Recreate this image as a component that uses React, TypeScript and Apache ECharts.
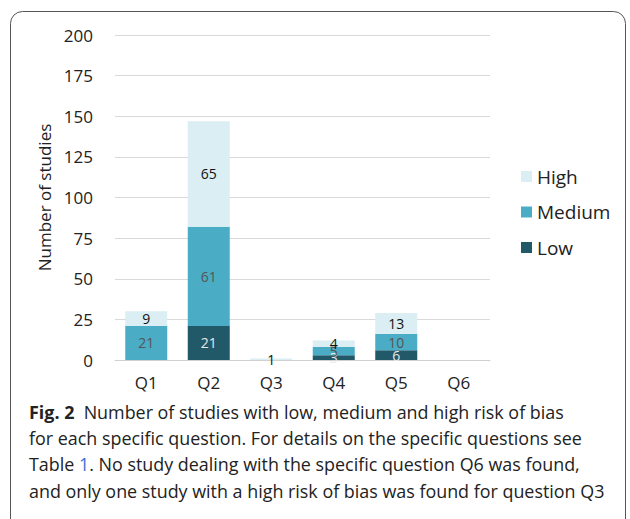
import React, { useEffect, useRef } from "react";
import * as echarts from "echarts";

const categories = ["Q1", "Q2", "Q3", "Q4", "Q5", "Q6"];
const lowValues = [0, 21, 0, 3, 6, 0];
const mediumValues = [21, 61, 0, 5, 10, 0];
const highValues = [9, 65, 1, 4, 13, 0];
const yTicks = [0, 25, 50, 75, 100, 125, 150, 175, 200];
const captionLines = [
  "Number of studies with low, medium and high risk of bias",
  "for each specific question. For details on the specific questions see",
  "Table 1. No study dealing with the specific question Q6 was found,",
  "and only one study with a high risk of bias was found for question Q3",
];

const FONT = "'Open Sans', 'Noto Sans', sans-serif";
const CAP = 17.9;

export default function App() {
  const ref = useRef<HTMLDivElement>(null);
  useEffect(() => {
    if (!ref.current) return;
    const chart = echarts.init(ref.current, undefined, { renderer: "svg" });
    const labelFmt = (p: any) => (p.value > 0 ? String(p.value) : "");
    const mk = (name: string, data: number[], color: string, labelColor: string) => ({
      name,
      type: "bar",
      stack: "total",
      data,
      barWidth: 42,
      itemStyle: { color },
      label: {
        show: true,
        position: "inside",
        formatter: labelFmt,
        color: labelColor,
        fontSize: 14,
        fontFamily: FONT,
      },
    });
    chart.setOption({
      animation: false,
      backgroundColor: "#fff",
      textStyle: { fontFamily: FONT },
      grid: { left: 115, right: 140, top: 35, bottom: 159 },
      legend: {
        orient: "vertical",
        left: 516,
        top: 162,
        data: ["High", "Medium", "Low"],
        icon: "rect",
        itemWidth: 11,
        itemHeight: 11,
        itemGap: 16.5,
        textStyle: { fontSize: 19, color: "#222", fontFamily: FONT },
      },
      xAxis: {
        type: "category",
        data: categories,
        axisLine: { lineStyle: { color: "#d0d0d0" } },
        axisTick: { show: false },
        axisLabel: { fontSize: 17, color: "#222", margin: 14, fontFamily: FONT },
      },
      yAxis: {
        type: "value",
        min: yTicks[0],
        max: yTicks[yTicks.length - 1],
        interval: 25,
        name: "Number of studies",
        nameLocation: "middle",
        nameGap: 62,
        nameTextStyle: { fontSize: 17, color: "#222", fontFamily: FONT },
        axisLine: { show: false },
        axisTick: { show: false },
        splitLine: { lineStyle: { color: "#d9d9d9" } },
        axisLabel: { fontSize: 17, color: "#222", margin: 22, fontFamily: FONT },
      },
      series: [
        mk("Low", lowValues, "#215968", "#e8e8e8"),
        mk("Medium", mediumValues, "#4bacc6", "#555"),
        mk("High", highValues, "#daeef3", "#111"),
      ],
      graphic: [
        {
          type: "rect",
          shape: { x: 10.5, y: 11.5, width: 615, height: 540, r: 12 },
          style: { fill: "none", stroke: "#555", lineWidth: 1 },
          z: -1,
        },
        {
          type: "text",
          left: 29,
          top: 403,
          style: {
            rich: {
              b: { fontWeight: "bold", fontSize: CAP, fontFamily: FONT, fill: "#222" },
              n: { fontSize: CAP, fontFamily: FONT, fill: "#222" },
            },
            text: "{b|Fig. 2}{n|  " + captionLines[0] + "}",
          },
        },
        {
          type: "text",
          left: 29,
          top: 429,
          style: { text: captionLines[1], fontSize: CAP, fontFamily: FONT, fill: "#222" },
        },
        {
          type: "text",
          left: 29,
          top: 455,
          style: {
            rich: {
              n: { fontSize: CAP, fontFamily: FONT, fill: "#222" },
              l: { fontSize: CAP, fontFamily: FONT, fill: "#3b6fd4" },
            },
            text: "{n|Table }{l|1}{n|" + captionLines[2].slice(7) + "}",
          },
        },
        {
          type: "text",
          left: 29,
          top: 482,
          style: { text: captionLines[3], fontSize: CAP, fontFamily: FONT, fill: "#222" },
        },
      ],
    });
    return () => chart.dispose();
  }, []);
  return (
    <div
      ref={ref}
      style={{ position: "fixed", left: 0, top: 0, width: 630, height: 519, background: "#fff" }}
    />
  );
}
